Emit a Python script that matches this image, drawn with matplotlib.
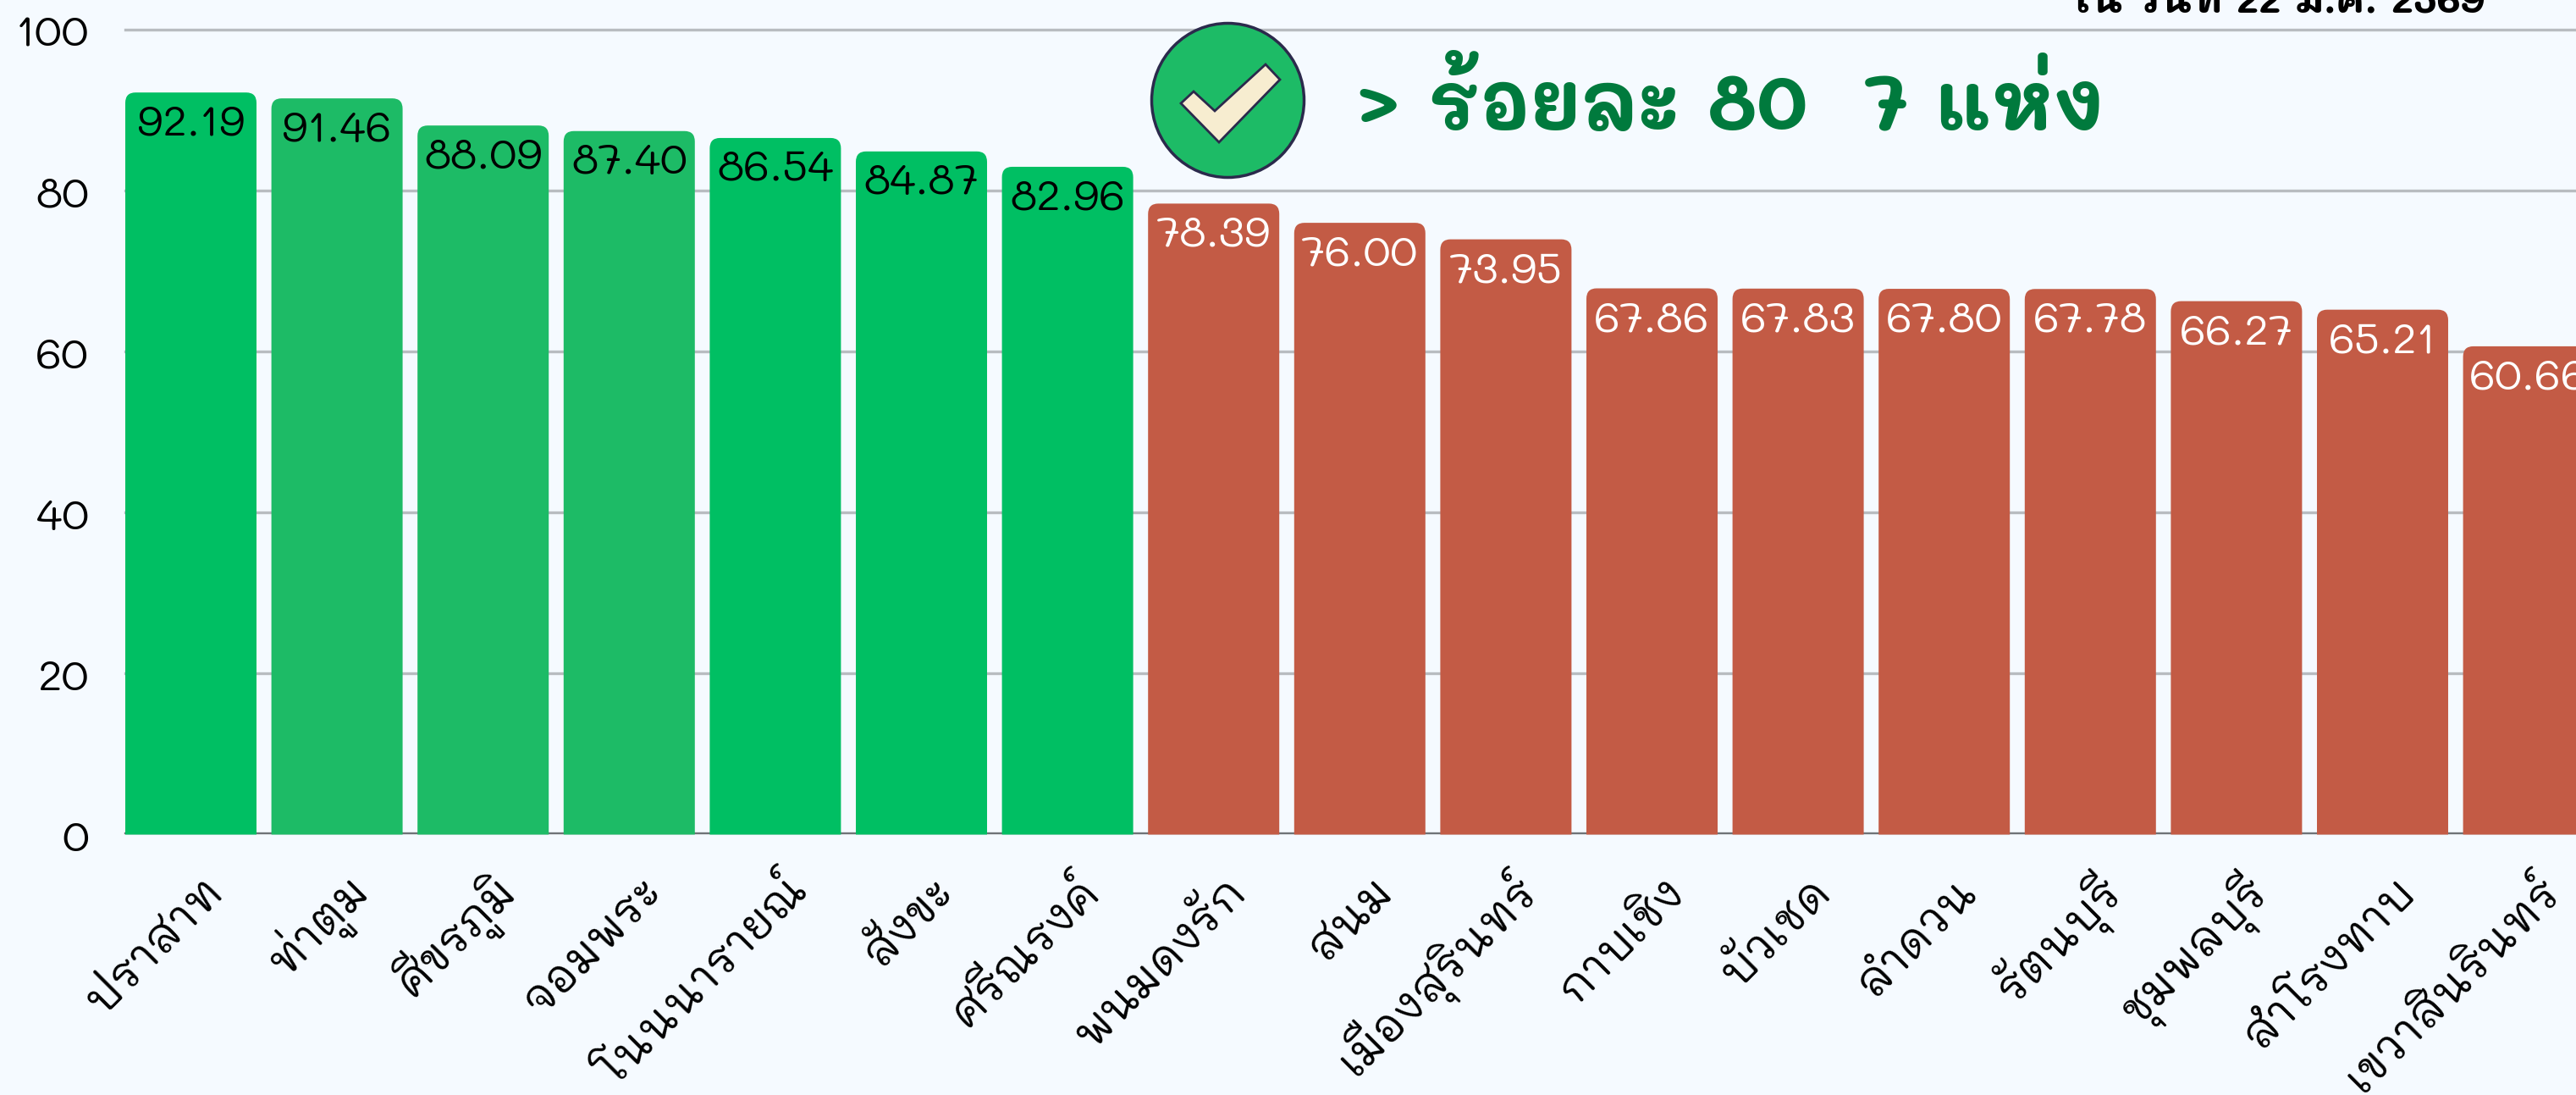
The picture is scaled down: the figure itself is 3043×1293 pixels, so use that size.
import matplotlib
matplotlib.use('Agg')
import matplotlib.pyplot as plt
from matplotlib.patches import Ellipse, PathPatch, Polygon
from matplotlib.path import Path
from matplotlib.transforms import Affine2D, ScaledTranslation

districts = ['ปราสาท', 'ท่าตูม', 'ศีขรภูมิ', 'จอมพระ', 'โนนนารายณ์', 'สังขะ', 'ศรีณรงค์',
             'พนมดงรัก', 'สนม', 'เมืองสุรินทร์', 'กาบเชิง', 'บัวเชด', 'ลำดวน',
             'รัตนบุรี', 'ชุมพลบุรี', 'สำโรงทาบ', 'เขวาสินรินทร์']
percent = [92.19, 91.46, 88.09, 87.40, 86.54, 84.87, 82.96,
           78.39, 76.00, 73.95, 67.86, 67.83, 67.80, 67.78, 66.27, 65.21, 60.66]
greens = ['#00BF63', '#1DBB66', '#1DBB66', '#1DBB66', '#00BF63', '#00BF63', '#00BF63']
yticks = [0, 20, 40, 60, 80, 100]

W, H = 3043, 1293
BG = '#F5FAFF'
RED = '#C35B45'
FONT = 'Mali'

plt.rcParams['font.family'] = [FONT, 'DejaVu Sans']


def rounded_bar(ax, x, width, height, color, rx=0.07, ry=1.3):
    """Bar with only the two top corners rounded (radii in data units)"""
    l, r = x - width / 2, x + width / 2
    verts = [(l, 0), (l, height - ry), (l, height), (l + rx, height), (r - rx, height),
             (r, height), (r, height - ry), (r, 0), (l, 0)]
    codes = [Path.MOVETO, Path.LINETO, Path.CURVE3, Path.CURVE3, Path.LINETO,
             Path.CURVE3, Path.CURVE3, Path.LINETO, Path.CLOSEPOLY]
    ax.add_patch(PathPatch(Path(verts, codes), facecolor=color, edgecolor='none', zorder=3))


fig = plt.figure(figsize=(W / 100, H / 100), dpi=100, facecolor=BG)
ax = fig.add_axes([148 / W, (H - 985.5) / H, (W - 148) / W, 950.5 / H], facecolor=BG)

pitch = 172.6
ax.set_xlim(-0.449, (W - 148) / pitch - 0.449)
ax.set_ylim(0, 100)

for i, v in enumerate(percent):
    color = greens[i] if i < len(greens) else RED
    rounded_bar(ax, i, 0.898, v, color)
    txt_color = 'black' if v > 80 else 'white'
    ax.annotate(f'{v:.2f}', (i, v), xytext=(0, -26.5), textcoords='offset points',
                ha='center', va='center', fontsize=37, color=txt_color, zorder=4,
                annotation_clip=False)

# Axis styling
ax.set_yticks(yticks)
ax.set_xticks(range(len(districts)))
ax.grid(axis='y', color='#B8BCC0', linewidth=2.4, clip_on=False)
ax.grid(axis='x', visible=False)
ax.get_ygridlines()[0].set_visible(False)  # the baseline is drawn by the spine
ax.set_axisbelow(True)
for side in ['top', 'left', 'right']:
    ax.spines[side].set_visible(False)
ax.spines['bottom'].set_color('#6F7377')
ax.spines['bottom'].set_linewidth(1.7)
ax.spines['bottom'].set_position(('data', 0.13))
ax.tick_params(axis='both', length=0)
ax.tick_params(axis='y', labelsize=37, pad=31)
ax.set_xticklabels(districts, rotation=45, ha='right', va='center', rotation_mode='anchor',
                   fontsize=38.5)
ax.tick_params(axis='x', pad=43)
shift = ScaledTranslation(21 / 72, 0, fig.dpi_scale_trans)
for lab in ax.get_xticklabels():
    lab.set_transform(lab.get_transform() + shift)

# Figure-level annotations, in reference pixels
px = Affine2D().scale(1, -1).translate(0, H)
fig.add_artist(Ellipse((1450.5, 118.5), 180, 182, facecolor='#1DBB66', edgecolor='#2B2A4C',
                       linewidth=2.5, transform=px, zorder=5))
tick_mark = [(1495, 76), (1512, 94), (1440, 168), (1395, 122), (1410, 108), (1435, 131)]
fig.add_artist(Polygon(tick_mark, closed=True, facecolor='#F7EDD0', edgecolor='#2B2A4C',
                       linewidth=2, transform=px, zorder=6))
fig.text(1602 / W, 1 - 154 / H, '> ร้อยละ 80  7 แห่ง', color='#007A3D', fontsize=67.3,
         fontweight='bold', ha='left', va='baseline')
fig.text(2442 / W, 1 - 16 / H, 'ใน วันที่ 22 มี.ค. 2569', color='black', fontsize=33.8,
         fontweight='bold', ha='left', va='baseline')

fig.savefig('out.png', dpi=100, facecolor=BG)
